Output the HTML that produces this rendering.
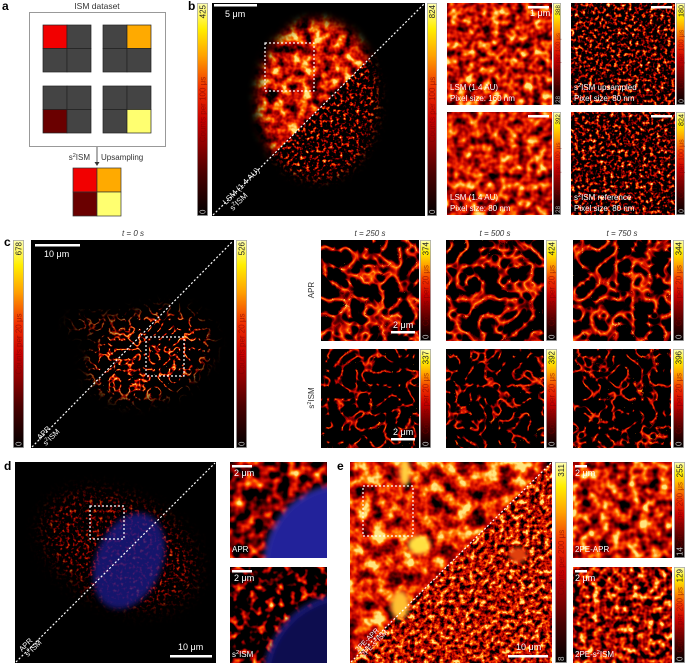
<!DOCTYPE html>
<html><head><meta charset="utf-8">
<style>
html,body{margin:0;padding:0;background:#fff;overflow:hidden;width:685px;height:664px;}
svg{display:block;font-family:"Liberation Sans",sans-serif;overflow:hidden;}
</style></head>
<body>
<svg id="fig" width="685" height="664" viewBox="0 0 685 664" xmlns="http://www.w3.org/2000/svg">
<defs>
<linearGradient id="hotgrad" x1="0" y1="1" x2="0" y2="0">
<stop offset="0" stop-color="#000"/><stop offset="0.2" stop-color="#4a0000"/><stop offset="0.45" stop-color="#c80000"/><stop offset="0.6" stop-color="#f03000"/><stop offset="0.75" stop-color="#ffa000"/><stop offset="0.88" stop-color="#ffee00"/><stop offset="1" stop-color="#ffffb0"/>
</linearGradient>
</defs>
<g id="layer"></g>
</svg>
<script>
// colorbar data
const cbTopB = [425, 824];
const cbInsetTopB = [388, 180, 392, 824];
const cbInsetBotB = [28, 0, 28, 0];
const cbTopC = [678, 526];
const cbInsetTopC1 = [374, 424, 344];
const cbInsetTopC2 = [337, 392, 396];
const timeLabels = ["t = 250 s", "t = 500 s", "t = 750 s"];
const cbTopE = [311, 255, 129];
const cbBotE = [8, 14, 0];

const NS = "http://www.w3.org/2000/svg";
const svg = document.getElementById('fig');
const defs = svg.querySelector('defs');
const layer = document.getElementById('layer');
function mk(tag, parent){ const e=document.createElementNS(NS,tag); (parent||layer).appendChild(e); return e; }
function set(e,o){ for(const k in o) e.setAttribute(k,o[k]); return e; }

let fid=0;
function hotFilter(type,freq,oct,seed,slope,icpt){
  const id='hf'+(fid++);
  const f=mk('filter',defs);
  set(f,{id:id,filterUnits:'userSpaceOnUse',x:0,y:0,width:685,height:664,'color-interpolation-filters':'sRGB'});
  const t=mk('feTurbulence',f); set(t,{type:type,baseFrequency:freq,numOctaves:oct,seed:seed});
  const cm=mk('feColorMatrix',f);
  set(cm,{type:'matrix',values:`${slope} 0 0 0 ${icpt} ${slope} 0 0 0 ${icpt} ${slope} 0 0 0 ${icpt} 0 0 0 0 1`});
  const ct=mk('feComponentTransfer',f);
  const r=mk('feFuncR',ct); set(r,{type:'table',tableValues:'0 0.35 0.7 0.95 1 1'});
  const g=mk('feFuncG',ct); set(g,{type:'table',tableValues:'0 0 0 0.15 0.5 0.9'});
  const b=mk('feFuncB',ct); set(b,{type:'table',tableValues:'0 0 0 0 0 0.5'});
  const a=mk('feFuncA',ct); set(a,{type:'table',tableValues:'1 1'});
  return id;
}
let cid=0;
function clipPoly(pts){ const id='cp'+(cid++); const c=mk('clipPath',defs); set(c,{id:id}); const p=mk('polygon',c); set(p,{points:pts}); return id; }
function clipRect(x,y,w,h){ const id='cp'+(cid++); const c=mk('clipPath',defs); set(c,{id:id}); const p=mk('rect',c); set(p,{x:x,y:y,width:w,height:h}); return id; }
let mid=0;
function maskShape(build){ const id='mk'+(mid++); const m=mk('mask',defs); set(m,{id:id,maskUnits:'userSpaceOnUse',x:0,y:0,width:685,height:664}); build(m); return id; }
function blurF(sd){ const id='bl'+(fid++); const f=mk('filter',defs); set(f,{id:id,x:'-50%',y:'-50%',width:'200%',height:'200%'}); const g=mk('feGaussianBlur',f); set(g,{stdDeviation:sd}); return id; }

function text(x,y,s,o,parent){ const t=mk('text',parent); set(t,Object.assign({x:x,y:y,'font-size':8,fill:'#fff'},o||{})); t.textContent=s; return t; }

function texRect(g,x,y,w,h,fil,extra){ const r=mk('rect',g); set(r,Object.assign({x:x,y:y,width:w,height:h,filter:`url(#${fil})`},extra||{})); return r; }

function imgFrame(x,y,w,h,name){
  const g=mk('g'); set(g,{'clip-path':`url(#${clipRect(x,y,w,h)})`});
  
  
  const bg=mk('rect',g); set(bg,{x:x,y:y,width:w,height:h,fill:'#000'});
  return g;
}

function colorbar(x,y,w,h,top,bot,unit,name){
  const g=mk('g');
  
  
  const r=mk('rect',g); set(r,{x:x+0.4,y:y+0.4,width:w-0.8,height:h-0.8,fill:'url(#hotgrad)',stroke:'#aaa','stroke-width':0.8});
  const cx=x+w/2+2.8, fs=Math.min(8,w*0.8);
  text(cx,y+2,String(top),{'font-size':fs,fill:'#222','text-anchor':'end',transform:`rotate(-90 ${cx} ${y+2})`},g);
  text(cx,y+h-2,String(bot),{'font-size':fs,fill:'#bbb','text-anchor':'start',transform:`rotate(-90 ${cx} ${y+h-2})`},g);
  const my = h>150 ? y+h/2 : y+h*0.55;
  text(cx,my,'Counts per '+unit+' \u03bcs',{'font-size':fs,fill:'rgba(120,0,0,0.6)','text-anchor':'middle',transform:`rotate(-90 ${cx} ${my})`},g);
}
function diag(x,y,w,h){ const l=mk('line'); set(l,{x1:x+1,y1:y+h-1,x2:x+w-1,y2:y+1,stroke:'#fff','stroke-width':1.2,'stroke-dasharray':'2 2'}); }
function dashBox(x,y,w,h){ const r=mk('rect'); set(r,{x:x,y:y,width:w,height:h,fill:'none',stroke:'#fff','stroke-width':1.2,'stroke-dasharray':'2 2'}); }
function sbar(x,y,w,label,lx,ly){ const l=mk('rect'); set(l,{x:x,y:y,width:w,height:2.5,fill:'#fff'}); if(label) text(lx,ly,label,{'font-size':9}); }
function panelLabel(x,y,s){ const t=text(x,y,s,{'font-size':12,'font-weight':'bold',fill:'#000'});   }

// ---------- Panel a ----------
panelLabel(2,10,'a');
text(97,9,'ISM dataset',{'font-size':8.5,fill:'#333','text-anchor':'middle'});
const boxA=mk('rect'); set(boxA,{x:29.5,y:12.5,width:136,height:134,fill:'#fff',stroke:'#999','stroke-width':1});


const groups=[[43,25,0,'#f20000'],[103,25,1,'#ffaa00'],[43,86,2,'#6a0000'],[103,86,3,'#ffff70']];
groups.forEach(gp=>{
  for(let i=0;i<4;i++){ const cx=gp[0]+(i%2)*24, cy=gp[1]+Math.floor(i/2)*23.5;
    const r=mk('rect'); set(r,{x:cx,y:cy,width:24,height:23.5,fill:i===gp[2]?gp[3]:'#444',stroke:'#222','stroke-width':0.7}); }
});
const outCols=['#f20000','#ffaa00','#6a0000','#ffff70'];
for(let i=0;i<4;i++){ const r=mk('rect'); set(r,{x:73+(i%2)*24,y:168+Math.floor(i/2)*24,width:24,height:24,fill:outCols[i],stroke:'#333','stroke-width':0.7}); }
const arr=mk('line'); set(arr,{x1:97,y1:147,x2:97,y2:164,stroke:'#333','stroke-width':0.8});
const ah=mk('polygon'); set(ah,{points:'94.5,162 99.5,162 97,166',fill:'#333'});
const s2a=text(90,160,'',{'font-size':8,fill:'#333','text-anchor':'end'}); s2a.innerHTML='s<tspan font-size="5.5" dy="-3">2</tspan><tspan dy="3">ISM</tspan>';
text(101,160,'Upsampling',{'font-size':8,fill:'#333'});

// ---------- Panel b ----------
panelLabel(188,10,'b');
colorbar(197,3,11,213,cbTopB[0],0,'100','colorbar-b-left');
{
  const x=212,y=3,w=213,h=213;
  const g=imgFrame(x,y,w,h,'image-b-main');
  const fBright=hotFilter('fractalNoise',0.09,3,3,2.0,-0.5);
  const fSparse=hotFilter('fractalNoise',0.3,2,5,3.0,-1.5);
  const bl=blurF(5);
  const m=maskShape(mm=>{ const e=mk('ellipse',mm); set(e,{cx:318,cy:100,rx:60,ry:80,fill:'#fff',filter:`url(#${bl})`}); });
  const gu=mk('g',g); set(gu,{'clip-path':`url(#${clipPoly(`${x},${y} ${x+w},${y} ${x},${y+h}`)})`,mask:`url(#${m})`});
  texRect(gu,x,y,w,h,fBright);
  const gl=mk('g',g); set(gl,{'clip-path':`url(#${clipPoly(`${x+w},${y} ${x+w},${y+h} ${x},${y+h}`)})`,mask:`url(#${m})`});
  texRect(gl,x,y,w,h,fSparse);
  diag(x,y,w,h); dashBox(265,43,49,48);
  sbar(214,4,43,'5 \u03bcm',225,17);
  text(226,205,'LSM (1.4 AU)',{'font-size':8,transform:'rotate(-45 226 205)'});
  const t2=text(233,211,'',{'font-size':8,transform:'rotate(-45 233 211)'}); t2.innerHTML='s<tspan font-size="5.5" dy="-3">2</tspan><tspan dy="3">ISM</tspan>';
}
colorbar(427,3,10,213,cbTopB[1],0,'100','colorbar-b-right');
{
  const pos=[[447,3,105,102],[571,3,104,102],[447,112,105,103],[571,112,104,103]];
  const labs=[['LSM (1.4 AU)','Pixel size: 160 nm'],['s2ISM upsampled','Pixel size: 80 nm'],['LSM (1.4 AU)','Pixel size: 80 nm'],['s2ISM reference','Pixel size: 80 nm']];
  const fl=[hotFilter('fractalNoise',0.12,2,11,1.8,-0.4),hotFilter('fractalNoise',0.28,2,12,3.0,-1.4),hotFilter('fractalNoise',0.11,2,13,1.8,-0.4),hotFilter('fractalNoise',0.28,2,14,3.0,-1.4)];
  const cbx=[553,676,553,676];
  pos.forEach((p,i)=>{
    const g=imgFrame(p[0],p[1],p[2],p[3],'inset-b-'+(i+1));
    texRect(g,p[0],p[1],p[2],p[3],fl[i]);
    const a=text(p[0]+3,p[1]+p[3]-15,'',{'font-size':8});
    if(labs[i][0].startsWith('s2')) a.innerHTML='s<tspan font-size="5.5" dy="-3">2</tspan><tspan dy="3">'+labs[i][0].slice(2)+'</tspan>'; else a.textContent=labs[i][0];
    text(p[0]+3,p[1]+p[3]-4,labs[i][1],{'font-size':8});
    sbar(p[0]+p[2]-24,p[1]+3,21,i===0?'1 \u03bcm':'',p[0]+p[2]-22,p[1]+13);
    colorbar(cbx[i],p[1],i%2?9:8,p[3],cbInsetTopB[i],cbInsetBotB[i],'100','colorbar-b-inset-'+(i+1));
  });
}

// ---------- Panel c ----------
panelLabel(4,246,'c');
text(133,236,'t = 0 s',{'font-size':8,fill:'#333','text-anchor':'middle','font-style':'italic'});
colorbar(13,240,11,208,cbTopC[0],0,'20','colorbar-c-left');
{
  const x=31,y=240,w=203,h=208;
  const g=imgFrame(x,y,w,h,'image-c-main');
  const fF=hotFilter('turbulence',0.1,2,21,-7,1.15);
  const bl=blurF(7);
  const m=maskShape(mm=>{ const e=mk('ellipse',mm); set(e,{cx:150,cy:355,rx:62,ry:42,fill:'#fff',filter:`url(#${bl})`,transform:'rotate(-20 150 355)'}); const e2=mk('ellipse',mm); set(e2,{cx:100,cy:325,rx:30,ry:8,fill:'#bbb',filter:`url(#${bl})`}); });
  const gg=mk('g',g); set(gg,{mask:`url(#${m})`}); texRect(gg,x,y,w,h,fF);
  diag(x,y,w,h); dashBox(146,337,38,39);
  sbar(35,244,45,'10 \u03bcm',44,257);
  text(40,440,'APR',{'font-size':7.5,transform:'rotate(-45 40 440)'});
  const t2=text(46,446,'',{'font-size':7.5,transform:'rotate(-45 46 446)'}); t2.innerHTML='s<tspan font-size="5" dy="-3">2</tspan><tspan dy="3">ISM</tspan>';
}
colorbar(236,240,11,208,cbTopC[1],0,'20','colorbar-c-right');
{
  const xs=[321,446,573], cbxs=[420,546,673];
  for(let c=0;c<3;c++){
    text(xs[c]+49,236,timeLabels[c],{'font-size':8,fill:'#333','text-anchor':'middle','font-style':'italic'});
    const rows=[[240,101,cbInsetTopC1[c],hotFilter('turbulence',0.06,2,31+c,-3.5,0.9)],[349,99,cbInsetTopC2[c],hotFilter('turbulence',0.07,2,31+c,-5,0.8)]];
    rows.forEach((r,ri)=>{
      const g=imgFrame(xs[c],r[0],98,r[1],'inset-c-'+(ri?'s2ism':'apr')+'-'+(c+1));
      texRect(g,xs[c],r[0],98,r[1],r[3]);
      if(c===0){ sbar(391,r[0]+r[1]-10,24,'2 \u03bcm',393,r[0]+r[1]-13); }
      colorbar(cbxs[c],r[0],11,r[1],r[2],0,'20','colorbar-c-inset-'+ri+'-'+(c+1));
    });
  }
  text(314,290,'APR',{'font-size':8,fill:'#333','text-anchor':'middle',transform:'rotate(-90 314 290)'});
  const s=text(314,398,'',{'font-size':8,fill:'#333','text-anchor':'middle',transform:'rotate(-90 314 398)'}); s.innerHTML='s<tspan font-size="5.5" dy="-3">2</tspan><tspan dy="3">ISM</tspan>';
}

// ---------- Panel d ----------
panelLabel(4,470,'d');
{
  const x=15,y=462,w=201,h=201;
  const g=imgFrame(x,y,w,h,'image-d-main');
  const fS=hotFilter('fractalNoise',0.3,2,41,2.6,-1.35);
  const bl=blurF(9);
  const m=maskShape(mm=>{ const e=mk('ellipse',mm); set(e,{cx:120,cy:550,rx:80,ry:50,fill:'#ccc',filter:`url(#${bl})`,transform:'rotate(25 120 550)'}); });
  const gg=mk('g',g); set(gg,{mask:`url(#${m})`}); texRect(gg,x,y,w,h,fS);
  const bl2=blurF(3);
  const nuc=mk('ellipse',g); set(nuc,{cx:129,cy:561,rx:33,ry:50,fill:'#1a1a90',opacity:0.75,filter:`url(#${bl2})`,transform:'rotate(22 129 561)'});
  
  
  diag(x,y,w,h); dashBox(90,506,34,33);
  sbar(170,655,42,'10 \u03bcm',178,650);
  text(22,652,'APR',{'font-size':7.5,transform:'rotate(-45 22 652)'});
  const t2=text(28,657,'',{'font-size':7.5,transform:'rotate(-45 28 657)'}); t2.innerHTML='s<tspan font-size="5" dy="-3">2</tspan><tspan dy="3">ISM</tspan>';
  const ins=[[462,345,565,80,hotFilter('fractalNoise',0.09,2,43,2.2,-0.85)],[567,350,680,85,hotFilter('fractalNoise',0.12,2,44,2.8,-1.4)]];
  ins.forEach((p,i)=>{
    const gi=imgFrame(230,p[0],97,96,'inset-d-'+(i?'s2ism':'apr'));
    texRect(gi,230,p[0],97,96,p[4]);
    const c=mk('circle',gi); set(c,{cx:p[1],cy:p[2],r:p[3],fill:i?'#0c0c50':'#22229a',stroke:i?'#3030c0':'#4040c0','stroke-width':2,filter:`url(#${bl2})`});
    sbar(232,p[0]+3,20,'2 \u03bcm',234,p[0]+14);
    const lb=text(232,p[0]+90,'',{'font-size':8});
    if(i) lb.innerHTML='s<tspan font-size="5.5" dy="-3">2</tspan><tspan dy="3">ISM</tspan>'; else lb.textContent='APR';
  });
}

// ---------- Panel e ----------
panelLabel(337,470,'e');
{
  const x=350,y=462,w=202,h=201;
  const g=imgFrame(x,y,w,h,'image-e-main');
  const fU=hotFilter('fractalNoise',0.07,3,51,2.0,-0.45);
  const fL=hotFilter('fractalNoise',0.2,3,52,2.2,-0.65);
  const gu=mk('g',g); set(gu,{'clip-path':`url(#${clipPoly(`${x},${y} ${x+w},${y} ${x},${y+h}`)})`}); texRect(gu,x,y,w,h,fU);
  const gl=mk('g',g); set(gl,{'clip-path':`url(#${clipPoly(`${x+w},${y} ${x+w},${y+h} ${x},${y+h}`)})`}); texRect(gl,x,y,w,h,fL);
  const bl=blurF(2.5);
  [[419,545,11,9,'#ffe040'],[400,605,9,14,'#ffc030'],[405,472,5,14,'#ffd040'],[518,555,9,8,'#e04010']].forEach(b=>{const e=mk('ellipse',g); set(e,{cx:b[0],cy:b[1],rx:b[2],ry:b[3],fill:b[4],filter:`url(#${bl})`});});
  diag(x,y,w,h); dashBox(363,486,50,50);
  sbar(508,655,40,'10 \u03bcm',516,650);
  text(358,652,'2PE-APR',{'font-size':7,transform:'rotate(-45 358 652)'});
  const t2=text(364,657,'',{'font-size':7,transform:'rotate(-45 364 657)'}); t2.innerHTML='2PE-s<tspan font-size="5" dy="-3">2</tspan><tspan dy="3">ISM</tspan>';
}
colorbar(555,462,12,201,cbTopE[0],cbBotE[0],'200','colorbar-e-main');
{
  const ins=[[462,hotFilter('fractalNoise',0.1,2,61,2.0,-0.5)],[567,hotFilter('fractalNoise',0.15,2,62,2.4,-0.8)]];
  ins.forEach((p,i)=>{
    const g=imgFrame(573,p[0],99,96,'inset-e-'+(i+1));
    texRect(g,573,p[0],99,96,p[1]);
    sbar(575,p[0]+3,12,'2 \u03bcm',575,p[0]+14);
    const lb=text(575,p[0]+90,'',{'font-size':8});
    if(i) lb.innerHTML='2PE-s<tspan font-size="5.5" dy="-3">2</tspan><tspan dy="3">ISM</tspan>'; else lb.textContent='2PE-APR';
    colorbar(674,p[0],11,96,cbTopE[i+1],cbBotE[i+1],'200','colorbar-e-inset-'+(i+1));
  });
}
</script>
</body></html>
